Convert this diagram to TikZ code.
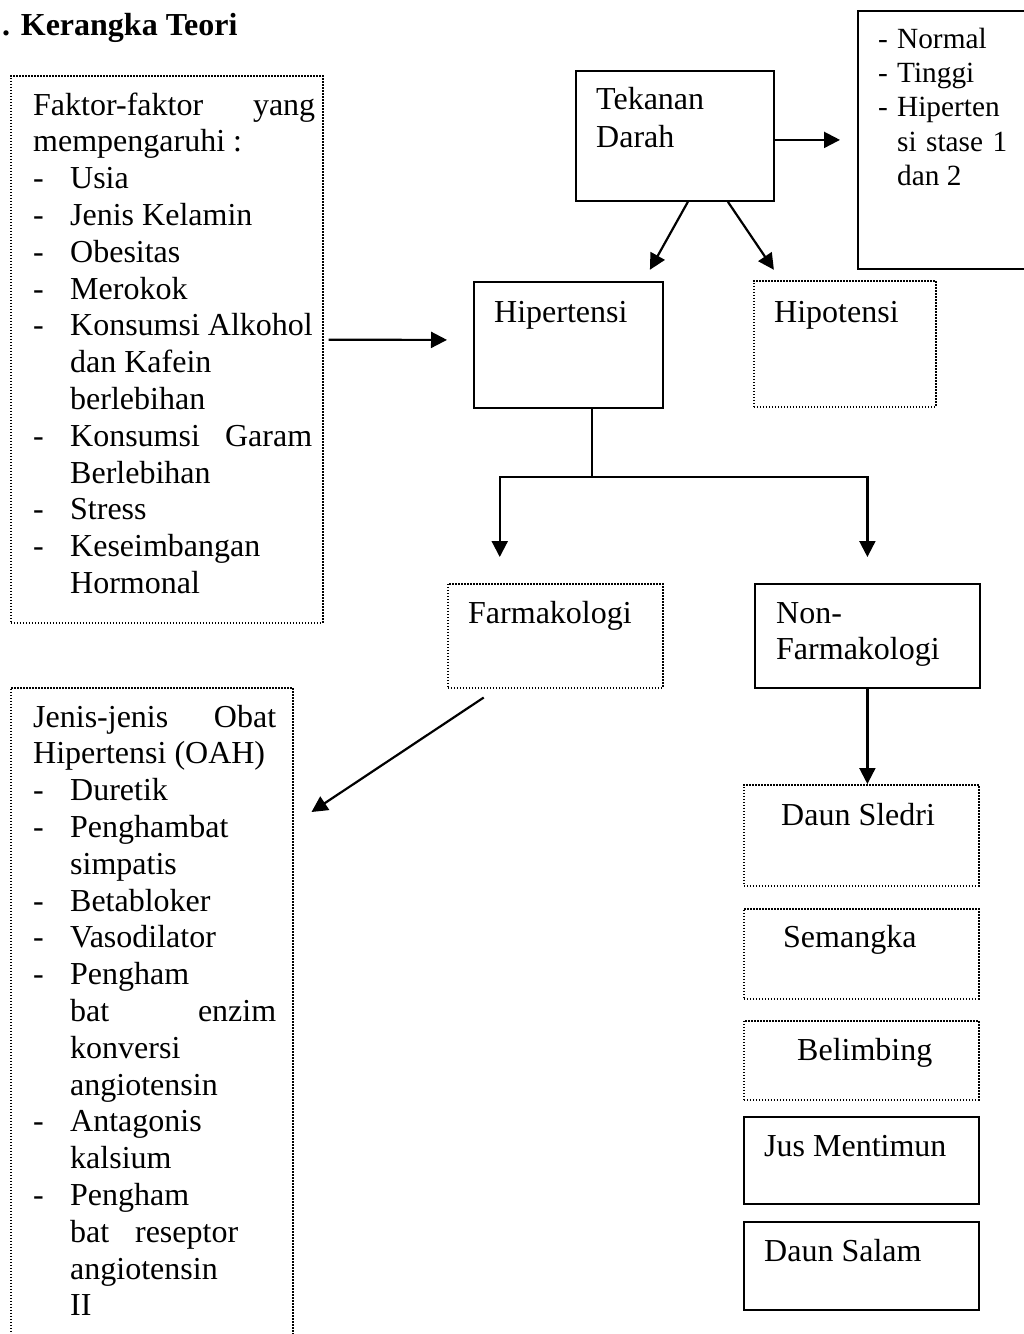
\documentclass[tikz,border=0pt]{standalone}
\usepackage{fontspec}
\setmainfont{Liberation Serif}
\usetikzlibrary{arrows.meta}
\newcommand\isi{\fontsize{32}{36.8}\selectfont}
\newcommand\kecil{\fontsize{29.3}{34.4}\selectfont}
\newcommand\butir[1]{\makebox[37pt][l]{-}#1}
\newcommand\lanjut[1]{\hspace*{37pt}#1}
\newcommand\butirkecil[1]{\makebox[19pt][l]{-}#1}
\tikzset{
	kotak/.style={draw, line width=1.8pt, inner sep=0pt, anchor=north west},
	kotaktitik/.style={kotak, line width=1.5pt, dash pattern=on 1.5pt off 1.5pt},
	teks/.style={inner sep=0pt, anchor=base west, font=\isi},
	garis/.style={line width=2.2pt},
	panah/.style={garis, -{Triangle[length=16pt,width=16pt]}},
}
\begin{document}
\begin{tikzpicture}[x=1pt,y=-1pt]
				\useasboundingbox (0,0) rectangle (1024,1334);
				% 标题
				\node[teks, font=\isi\bfseries] (judul) at (2,35) {. Kerangka Teori};
				% 绘制方框
				\node[kotaktitik, minimum width=312, minimum height=547] (faktor) at (10,75) {};
				\node[kotak, minimum width=198, minimum height=130] (tekanan) at (575,70) {};
				\node[kotak, minimum width=190, minimum height=258] (rentang) at (857,10) {};
				\node[kotak, minimum width=189, minimum height=126] (hiper) at (473,281) {};
				\node[kotaktitik, minimum width=182, minimum height=126] (hipo) at (753,280) {};
				\node[kotaktitik, minimum width=215, minimum height=104] (farmakologi) at (447,583) {};
				\node[kotak, minimum width=225, minimum height=104] (nonfarm) at (754,583) {};
				\node[kotaktitik, minimum width=282, minimum height=680] (jenis) at (10,687) {};
				\node[kotaktitik, minimum width=235, minimum height=101] (sledri) at (743,784) {};
				\node[kotaktitik, minimum width=235, minimum height=90] (semangka) at (743,908) {};
				\node[kotaktitik, minimum width=235, minimum height=79] (belimbing) at (743,1020) {};
				\node[kotak, minimum width=235, minimum height=87] (mentimun) at (743,1116) {};
				\node[kotak, minimum width=235, minimum height=88] (salam) at (743,1221) {};
				% 方框内文字
				\node[teks] (tekanan-a) at ([xshift=21pt,yshift=-39pt]tekanan.north west) {Tekanan};
				\node[teks] (tekanan-b) at ([xshift=21pt,yshift=-77pt]tekanan.north west) {Darah};
				\node[teks] (hiper-a) at ([xshift=21pt,yshift=-41pt]hiper.north west) {Hipertensi};
				\node[teks] (hipo-a) at ([xshift=21pt,yshift=-42pt]hipo.north west) {Hipotensi};
				\node[teks] (farmakologi-a) at ([xshift=21pt,yshift=-40pt]farmakologi.north west) {Farmakologi};
				\node[teks] (nonfarm-a) at ([xshift=22pt,yshift=-40pt]nonfarm.north west) {Non-};
				\node[teks] (nonfarm-b) at ([xshift=22pt,yshift=-76pt]nonfarm.north west) {Farmakologi};
				\node[teks] (sledri-a) at ([xshift=38pt,yshift=-41pt]sledri.north west) {Daun Sledri};
				\node[teks] (semangka-a) at ([xshift=40pt,yshift=-39pt]semangka.north west) {Semangka};
				\node[teks] (belimbing-a) at ([xshift=54pt,yshift=-40pt]belimbing.north west) {Belimbing};
				\node[teks] (mentimun-a) at ([xshift=21pt,yshift=-40pt]mentimun.north west) {Jus Mentimun};
				\node[teks] (salam-a) at ([xshift=21pt,yshift=-40pt]salam.north west) {Daun Salam};
				% 各行列表
				\foreach \baris [count=\i from 0] in {
					{\makebox[282pt][s]{Faktor-faktor\hfill yang}}, mempengaruhi :,
					\butir{Usia}, \butir{Jenis Kelamin}, \butir{Obesitas}, \butir{Merokok},
					\butir{Konsumsi Alkohol}, \lanjut{dan Kafein}, \lanjut{berlebihan},
					\butir{\makebox[242pt][s]{Konsumsi\hfill Garam}}, \lanjut{Berlebihan},
					\butir{Stress}, \butir{Keseimbangan}, \lanjut{Hormonal}}
					\node[teks] (faktor-\i) at ([xshift=23pt,yshift={-40pt-\i*36.8pt}]faktor.north west) {\baris};
				\foreach \baris [count=\i from 0] in {
					{\makebox[243pt][s]{Jenis-jenis\hfill Obat}}, Hipertensi (OAH),
					\butir{Duretik}, \butir{Penghambat}, \lanjut{simpatis}, \butir{Betabloker},
					\butir{Vasodilator}, \butir{Pengham}, \lanjut{\makebox[206pt][s]{bat\hfill enzim}},
					\lanjut{konversi}, \lanjut{angiotensin}, \butir{Antagonis}, \lanjut{kalsium},
					\butir{Pengham}, \lanjut{\makebox[168pt][s]{bat\hfill reseptor}},
					\lanjut{angiotensin}, \lanjut{II}}
					\node[teks] (jenis-\i) at ([xshift=23pt,yshift={-40pt-\i*36.8pt}]jenis.north west) {\baris};
				\foreach \baris [count=\i from 0] in {
					\butirkecil{Normal}, \butirkecil{Tinggi}, \butirkecil{Hiperten},
					{\hspace*{19pt}\makebox[110pt][s]{si\hfill stase\hfill 1}}, {\hspace*{19pt}dan 2}}
					\node[teks, font=\kecil] (rentang-\i) at ([xshift=21pt,yshift={-38pt-\i*34.4pt}]rentang.north west) {\baris};
				% 箭头
				\draw[panah] (tekanan.east |- rentang.west) -- ([xshift=-17pt]rentang.west);
				\draw[panah] ([xshift=13pt]tekanan.south) -- ([xshift=-25pt,yshift=-68pt]tekanan.south);
				\draw[panah] ([xshift=53pt]tekanan.south) -- ([xshift=99pt,yshift=-68pt]tekanan.south);
				\coordinate (ujung-faktor) at ([xshift=-26pt,yshift=5pt]hiper.west);
				\draw[panah] ([xshift=5pt,yshift=9.5pt]faktor.east) -- (ujung-faktor);
				\coordinate (cabang) at ([xshift=23.5pt,yshift=-68pt]hiper.south);
				\draw[garis] ([xshift=23.5pt]hiper.south) -- (cabang);
				\draw[panah] (cabang) -| ([xshift=-55.5pt,yshift=26pt]farmakologi.north);
				\draw[panah] (cabang) -| ([yshift=26pt]nonfarm.north);
				\draw[panah] (nonfarm.south) -- (nonfarm.south |- sledri.north);
				\draw[panah] ([xshift=-71.5pt,yshift=-9pt]farmakologi.south) -- ([xshift=18pt,yshift=-125pt]jenis.north east);
			\end{tikzpicture}
\end{document}
